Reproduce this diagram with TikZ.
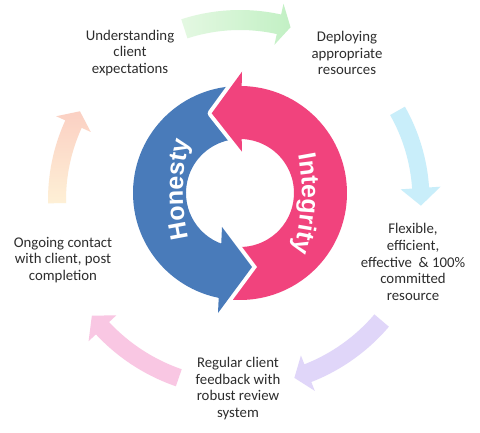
\documentclass[tikz,border=0pt]{standalone}
\usepackage{fontspec}
\setmainfont{Carlito}
\newfontfamily\ringfam{Liberation Sans}
\usetikzlibrary{decorations.text}
\definecolor{ringblue}{RGB}{73,123,186}
\definecolor{ringpink}{RGB}{241,67,125}
\definecolor{txt}{RGB}{45,45,45}
\definecolor{grnA}{HTML}{E4F8E2}
\definecolor{grnB}{HTML}{C2F0C4}
\definecolor{cyn}{HTML}{C9EEFA}
\definecolor{prp}{HTML}{E0D6F9}
\definecolor{pnk}{HTML}{F9C7E3}
\definecolor{orgA}{HTML}{FBD0C3}
\definecolor{orgB}{HTML}{FEF0D6}
\newcommand\ringtxt{\ringfam\bfseries\fontsize{25}{30}\selectfont}
% #1 style, #2 radius, #3 band width, #4 tail angle, #5 head base angle, #6 tip angle, #7 head width
\newcommand\cyclearrow[7]{%
  \path[#1] ({#4}:{#2+#3/2}) arc[start angle={#4}, end angle={#5}, radius={#2+#3/2}]
    -- ({#5}:{#2+#7/2}) -- ({#6}:{#2}) -- ({#5}:{#2-#7/2}) -- ({#5}:{#2-#3/2})
    arc[start angle={#5}, end angle={#4}, radius={#2-#3/2}] -- cycle;}
\begin{document}
\begin{tikzpicture}[x=1pt,y=1pt,
  lbl/.style={text=txt, align=center, font=\fontsize{14.8}{16.8}\selectfont, inner sep=0pt},
  halo/.style={draw=white, line width=8pt, line join=round}]
\fill[white] (0,0) rectangle (480,432);
\useasboundingbox (0,0) rectangle (480,432);
% outer cycle arrows
\begin{scope}[shift={(240,232)}]
  \cyclearrow{left color=grnA, right color=grnB}{180}{20}{108}{77.5}{73.7}{42}
  \cyclearrow{fill=cyn}{181}{17}{29.5}{3.8}{-1.8}{40}
  \cyclearrow{fill=prp}{186}{19}{-40.4}{-68.6}{-73}{38}
  \cyclearrow{fill=pnk}{188}{18}{-109}{-137}{-142}{38}
  \cyclearrow{top color=orgA, bottom color=orgB}{183}{18}{181}{155.5}{151}{38}
\end{scope}
% central ring
\begin{scope}[shift={(240,239)}]
  % blue band (tail runs under the pink head)
  \fill[ringblue] (92:107) arc[start angle=92, end angle=261, radius=107]
    -- (252:54) arc[start angle=252, end angle=92, radius=54] -- cycle;
  % pink arrow with white halo
  \path[fill=ringpink, preaction={halo}]
    (-96.4:107) -- (12,-74) -- (-93.2:54)
    arc[start angle=-93.2, end angle=88.2, radius=54]
    -- (2,41.3) -- (-28.3,79.7) -- (2,121.3) -- (89.1:107)
    arc[start angle=89.1, end angle=-96.4, radius=107] -- cycle;
  % blue head
  \draw[white, line width=8pt, line join=miter] (-22,-120) -- (12,-74) -- (-18,-34);
  \fill[ringblue] (-22,-120) -- (12,-74) -- (-18,-34) -- cycle;
\end{scope}
% ring texts
\path[decorate, decoration={text along path, text align=center, text color=white,
  text={|\ringtxt|Honesty}}]
  (383,239) ++(196:200) arc[start angle=196, end angle=162, radius=200];
\path[decorate, decoration={text along path, text align=center, text color=white,
  text={|\ringtxt|Integrity}}]
  (102,239) ++(14:200) arc[start angle=14, end angle=-20, radius=200];
% labels
\node[lbl] (t1) at (130,379) {Understanding\\client\\expectations};
\node[lbl] (t2) at (347,379) {Deploying\\appropriate\\resources};
\node[lbl] (t3) at (413,170) {Flexible,\\efficient,\\effective~ \& 100\%\\committed\\resource};
\node[lbl] (t4) at (63,172) {Ongoing contact\\with client, post\\completion};
\node[lbl] (t5) at (238,43.5) {Regular client\\feedback with\\robust review\\system};
\end{tikzpicture}
\end{document}
